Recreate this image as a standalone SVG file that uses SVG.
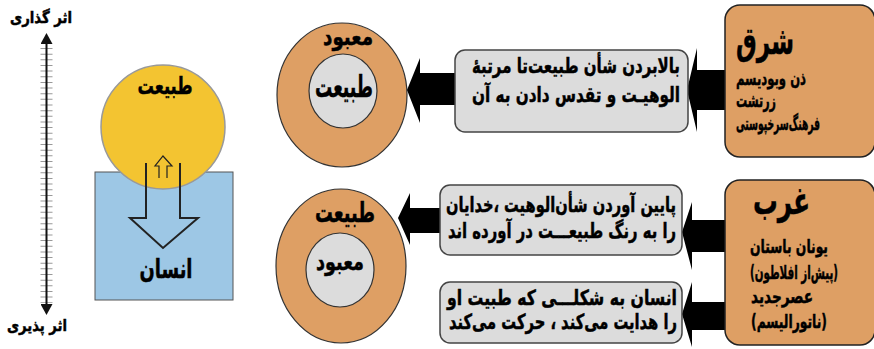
<svg xmlns="http://www.w3.org/2000/svg" width="874" height="349" viewBox="0 0 874 349">
<defs>
<style>
text{font-family:"DejaVu Sans","Noto Sans",sans-serif;font-weight:bold;fill:#000;stroke:#000;stroke-width:0.5;direction:rtl;}
.c{text-anchor:middle;}
.l{text-anchor:end;}
.orange{fill:#DE9F64;stroke:#333;stroke-width:1.2;}
.inner{fill:#DCDCDC;stroke:#333;stroke-width:1.2;}
.gbox{fill:#DCDCDC;stroke:#444;stroke-width:1.5;}
.obox{fill:#DE9F64;stroke:#222;stroke-width:1.5;}
.arrow{fill:#000;stroke:none;}
.t16{font-size:21px;}
.t15{font-size:19px;}
</style>
<marker id="ah" viewBox="0 0 11 12" markerWidth="11" markerHeight="12" refX="1" refY="6" markerUnits="userSpaceOnUse" orient="auto-start-reverse">
<path d="M0,0 L11,6 L0,12 z" fill="#111"/>
</marker>
</defs>
<rect width="874" height="349" fill="#fff"/>

<g id="scale">
<line x1="46.5" y1="48" x2="46.5" y2="303" stroke="#999" stroke-width="12" stroke-dasharray="1 4.65"/>
<line x1="46.5" y1="43" x2="46.5" y2="305" stroke="#111" stroke-width="2" marker-start="url(#ah)" marker-end="url(#ah)"/>
<text x="41" y="23" class="c" font-size="16" textLength="62" lengthAdjust="spacingAndGlyphs">اثر گذاری</text>
<text x="37" y="331" class="c" font-size="16" textLength="60" lengthAdjust="spacingAndGlyphs">اثر پذیری</text>
</g>

<g id="nature-human">
<rect x="95" y="172" width="138" height="128" fill="#9DC7E5" stroke="#555" stroke-width="1"/>
<circle cx="163" cy="127" r="62" fill="#F3C431" stroke="#999" stroke-width="1.5"/>
<path d="M146,163 V218 H130 L163,248 L198,218 H180 V163" fill="none" stroke="#222" stroke-width="2"/>
<path d="M159,178 V166 H155 L163,156 L172,166 H167 V178" fill="none" stroke="#222" stroke-width="1.2"/>
<text x="165" y="94" class="c" font-size="24" textLength="55" lengthAdjust="spacingAndGlyphs">طبیعت</text>
<text x="166" y="278" class="c" font-size="26" fill="#1b1b2b" textLength="53" lengthAdjust="spacingAndGlyphs">انسان</text>
</g>

<g id="circle-top">
<ellipse cx="342" cy="95" rx="65" ry="72" class="orange"/>
<ellipse cx="343" cy="91" rx="34" ry="37" class="inner"/>
<text x="348" y="45" class="c" font-size="24" textLength="50" lengthAdjust="spacingAndGlyphs">معبود</text>
<text x="344" y="97" class="c" font-size="30" textLength="58" lengthAdjust="spacingAndGlyphs">طبیعت</text>
</g>

<g id="circle-bottom">
<ellipse cx="341" cy="266" rx="65" ry="77" class="orange"/>
<ellipse cx="340" cy="270" rx="34" ry="37" class="inner"/>
<text x="345" y="222" class="c" font-size="28" textLength="60" lengthAdjust="spacingAndGlyphs">طبیعت</text>
<text x="340" y="270" class="c" font-size="24" textLength="48" lengthAdjust="spacingAndGlyphs">معبود</text>
</g>

<g id="connectors">
<polygon class="arrow" points="455,73 420,73 420,58 407,90 420,123 420,105 455,105"/>
<polygon class="arrow" points="725,70 697,70 697,48 687,90 697,132 697,110 725,110"/>
<polygon class="arrow" points="441,208 410,208 410,193 398,218 410,245 410,233 441,233"/>
<polygon class="arrow" points="725,220 692,220 692,202 682,232 692,270 692,252 725,252"/>
<polygon class="arrow" points="725,302 692,302 692,282 682,314 692,347 692,330 725,330"/>
</g>

<g id="box-top">
<rect x="455" y="50" width="233" height="82" rx="10" class="gbox"/>
<text x="576" y="73" class="c t16" textLength="208" lengthAdjust="spacingAndGlyphs">بالابردن شأن طبیعت‌تا مرتبهٔ</text>
<text x="576" y="102" class="c t16" textLength="208" lengthAdjust="spacingAndGlyphs">الوهیـت و تقدس دادن به آن</text>
</g>

<g id="box-mid">
<rect x="440" y="185" width="242" height="70" rx="10" class="gbox"/>
<text x="561" y="212" class="c t16" textLength="230" lengthAdjust="spacingAndGlyphs">پایین آوردن شأن‌الوهیت ،خدایان</text>
<text x="562" y="238" class="c t16" textLength="228" lengthAdjust="spacingAndGlyphs">را به رنگ طبیعـــت در آورده اند</text>
</g>

<g id="box-low">
<rect x="440" y="282" width="242" height="61" rx="10" class="gbox"/>
<text x="562" y="305" class="c t16" textLength="230" lengthAdjust="spacingAndGlyphs">انسان به شکلـــی که طبیت او</text>
<text x="563" y="329" class="c t16" textLength="228" lengthAdjust="spacingAndGlyphs">را هدایت می‌کند ، حرکت می‌کند</text>
</g>

<g id="east">
<rect x="725" y="5" width="150" height="152" rx="15" class="obox"/>
<text x="736" y="54" class="l" font-size="38" textLength="58" lengthAdjust="spacingAndGlyphs">شرق</text>
<text x="736" y="85" class="l t15" textLength="70" lengthAdjust="spacingAndGlyphs">ذن وبودیسم</text>
<text x="736" y="107" class="l t15" textLength="40" lengthAdjust="spacingAndGlyphs">زرتشت</text>
<text x="736" y="130" class="l t15" textLength="84" lengthAdjust="spacingAndGlyphs">فرهنگ‌سرخپوستی</text>
</g>

<g id="west">
<rect x="725" y="180" width="150" height="165" rx="15" class="obox"/>
<text x="753" y="214" class="l" font-size="38" textLength="57" lengthAdjust="spacingAndGlyphs">غرب</text>
<text x="750" y="253" class="l t15" textLength="78" lengthAdjust="spacingAndGlyphs">یونان باستان</text>
<text x="750" y="279" class="l t15" textLength="88" lengthAdjust="spacingAndGlyphs">(پیش‌از افلاطون)</text>
<text x="751" y="303" class="l t15" textLength="62" lengthAdjust="spacingAndGlyphs">عصرجدید</text>
<text x="751" y="328" class="l t15" textLength="76" lengthAdjust="spacingAndGlyphs">(ناتورالیسم)</text>
</g>
</svg>
